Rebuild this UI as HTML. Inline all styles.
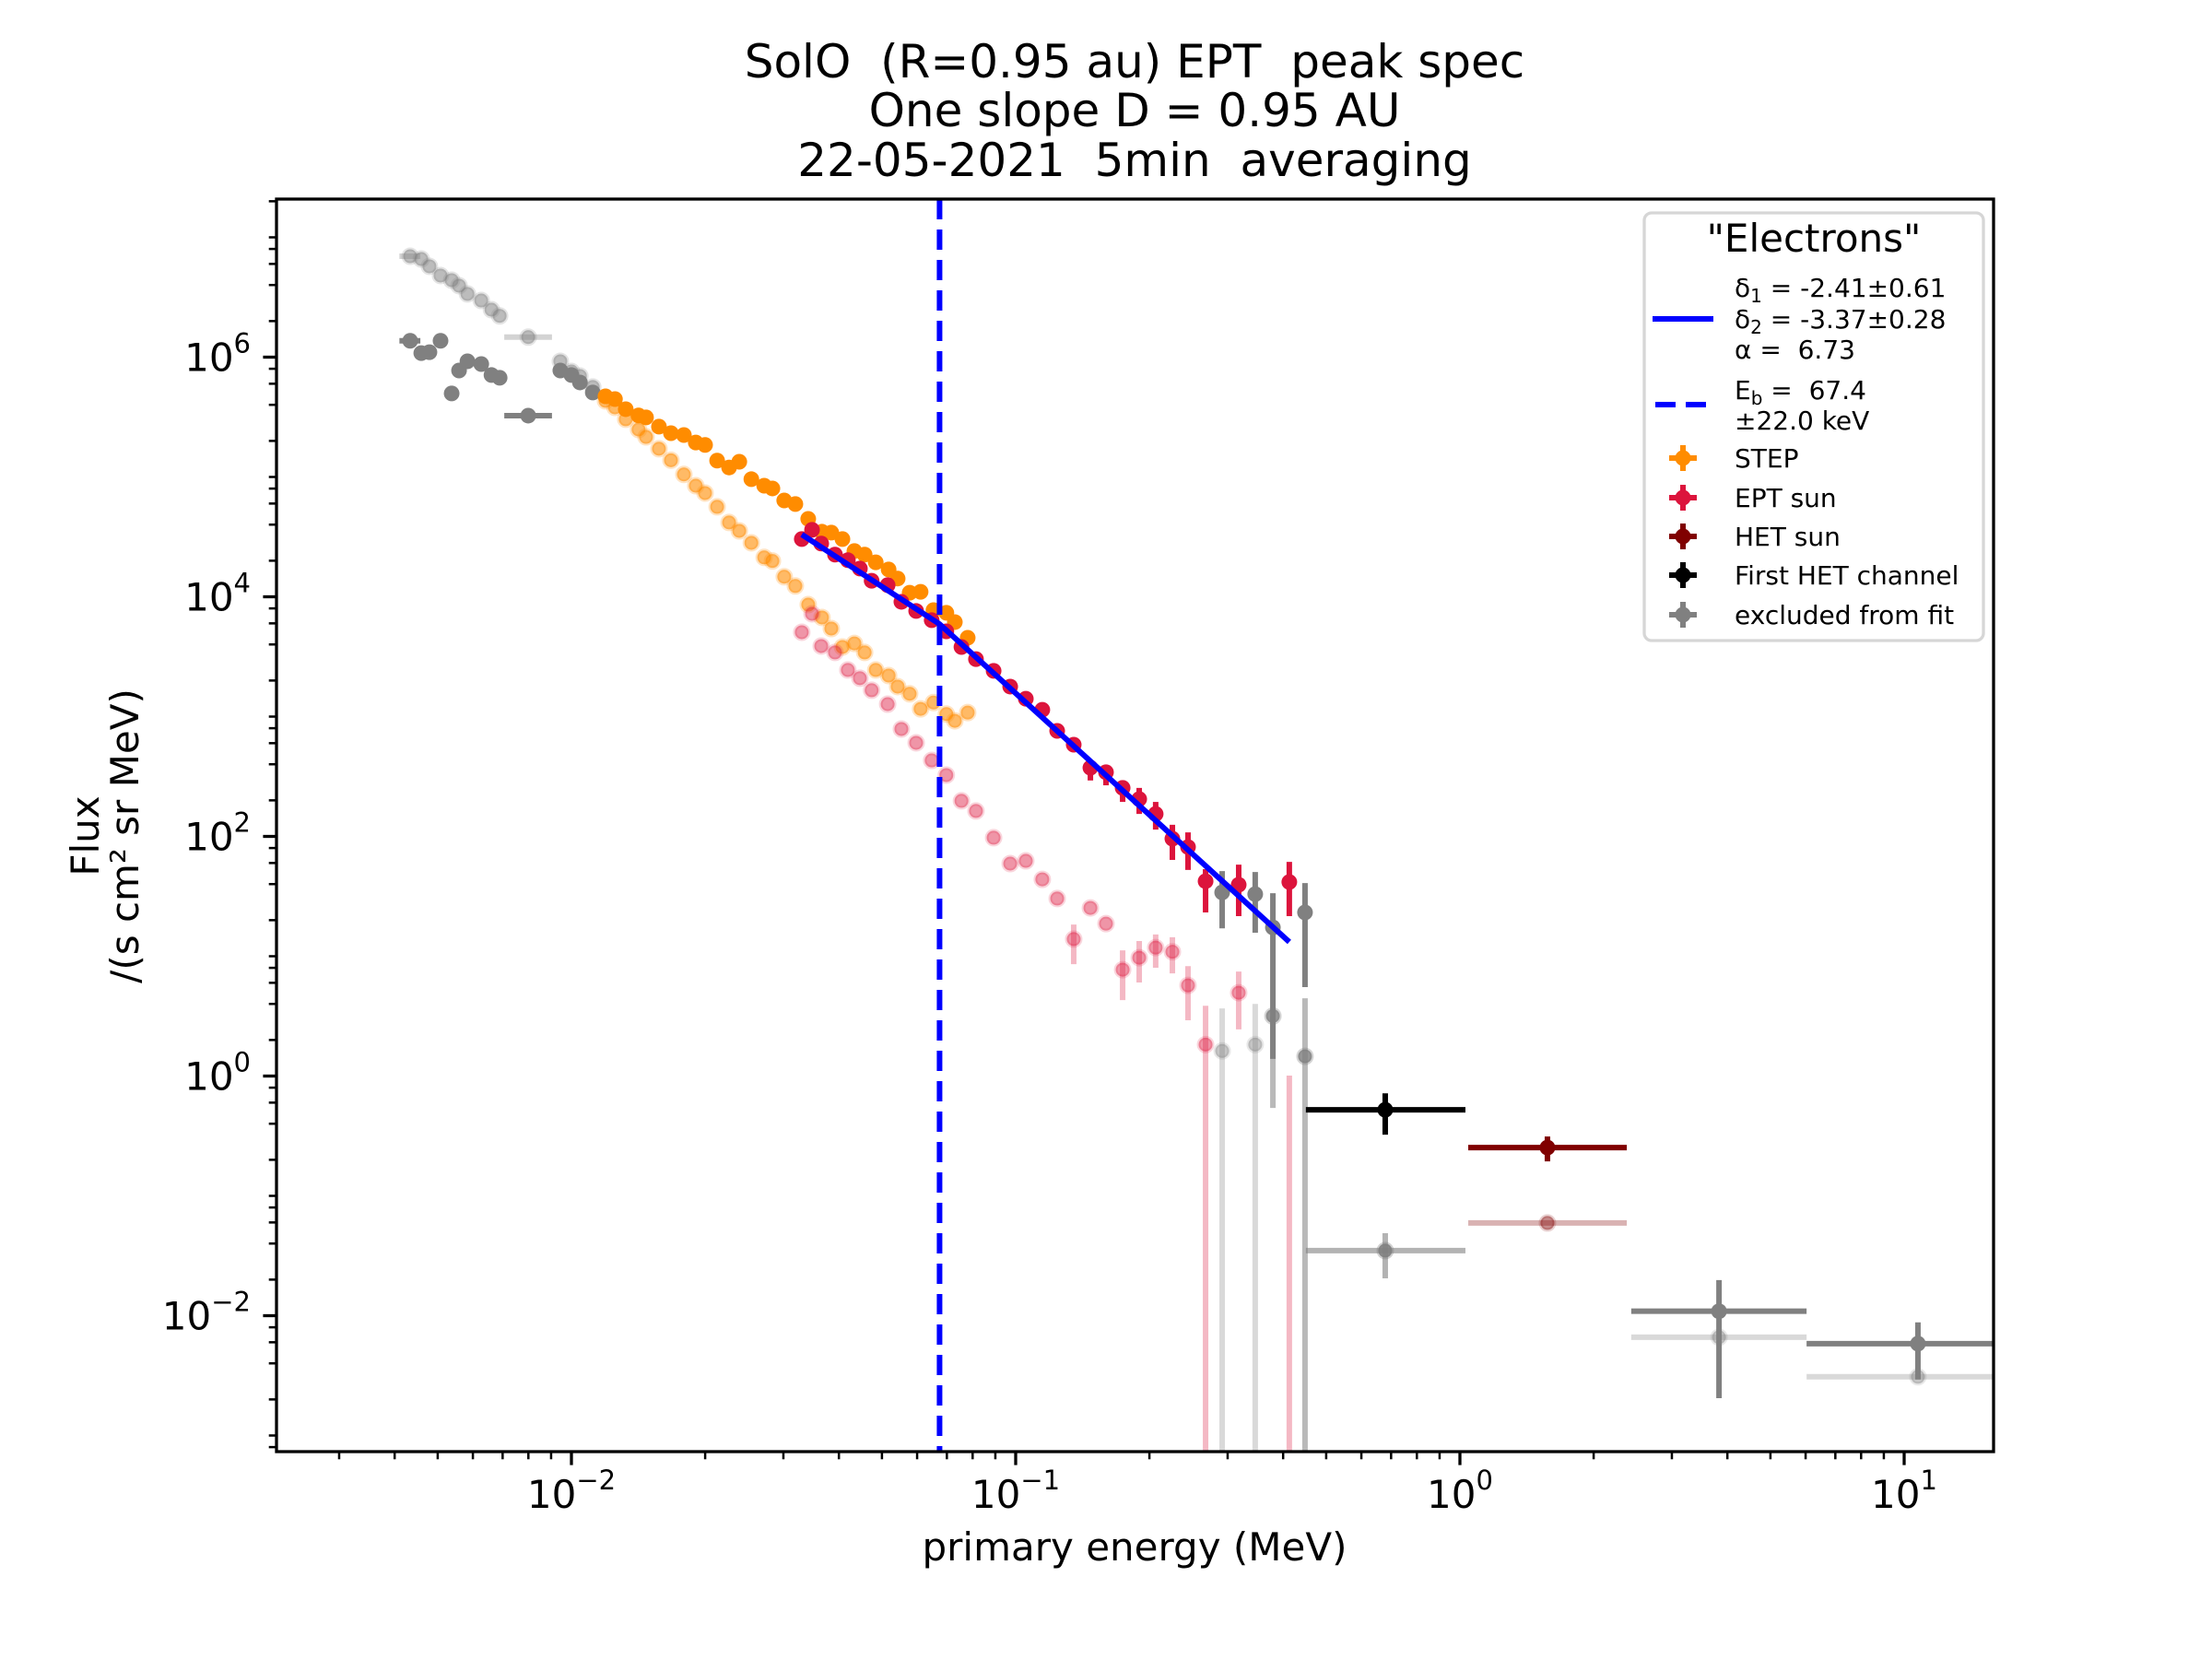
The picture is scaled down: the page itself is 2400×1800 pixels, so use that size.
<!DOCTYPE html>
<html><head><meta charset="utf-8"><style>
html,body{margin:0;padding:0;background:#fff;}
svg{display:block;font-family:"DejaVu Sans","Liberation Sans",sans-serif;}
text{white-space:pre;}
</style></head><body>
<svg id="chart" xmlns="http://www.w3.org/2000/svg" width="2400" height="1800" viewBox="0 0 2400 1800">
<rect x="0" y="0" width="2400" height="1800" fill="#fff"/>
<g font-size="50" text-anchor="middle" fill="#000">
<text x="1231" y="84">SolO  (R=0.95 au) EPT  peak spec</text>
<text x="1231" y="137">One slope D = 0.95 AU</text>
<text x="1231" y="191">22-05-2021  5min  averaging</text>
</g>
<defs><clipPath id="plotclip"><rect x="300" y="216" width="1863" height="1359"/></clipPath></defs>
<g id="plot" clip-path="url(#plotclip)"></g>
<rect x="300" y="216" width="1863" height="1359" fill="none" stroke="#000" stroke-width="3.3"/>
<g id="axes"></g>
<text x="1231" y="1693" font-size="42" text-anchor="middle">primary energy (MeV)</text>
<g font-size="42" text-anchor="middle">
<text transform="translate(107,907) rotate(-90)">Flux</text>
<text transform="translate(150,907) rotate(-90)">/(s cm² sr MeV)</text>
</g>
<g id="legend">
<rect x="1784" y="231" width="368" height="464" rx="8" fill="#fff" fill-opacity="0.8" stroke="#d6d6d6" stroke-width="3.3"/>
<text x="1968" y="273" font-size="42" text-anchor="middle">"Electrons"</text>
<line x1="1793" y1="346" x2="1859" y2="346" stroke="#0000ff" stroke-width="6"/>
<g font-size="28">
<text x="1882" y="322">δ<tspan font-size="20" dy="6">1</tspan><tspan dy="-6"> = -2.41±0.61</tspan></text>
<text x="1882" y="356">δ<tspan font-size="20" dy="6">2</tspan><tspan dy="-6"> = -3.37±0.28</tspan></text>
<text x="1882" y="389">α =  6.73</text>
</g>
<line x1="1796" y1="439" x2="1856" y2="439" stroke="#0000ff" stroke-width="6" stroke-dasharray="22,11"/>
<g font-size="28">
<text x="1882" y="433">E<tspan font-size="20" dy="6">b</tspan><tspan dy="-6"> =  67.4</tspan></text>
<text x="1882" y="466">±22.0 keV</text>
</g>
<g id="legend-entries"></g>
</g>
</svg>
<script>
// ---------- data ----------
const stepE=[0.01193,0.01253,0.01325,0.01416,0.01472,0.01574,0.01675,0.01791,0.01905,0.01999,0.02128,0.02264,0.02387,0.02541,0.02716,0.02834,0.03013,0.03192,0.03412,0.03664,0.03846,0.04074,0.04335,0.04571,0.04842,0.05176,0.05424,0.05772,0.06109,0.06531,0.06982,0.07295,0.07798];
const stepF=[4.71e5,4.47e5,3.68e5,3.26e5,3.14e5,2.63e5,2.32e5,2.24e5,1.94e5,1.85e5,1.37e5,1.20e5,1.34e5,9.58e4,8.45e4,8.02e4,6.37e4,5.94e4,4.47e4,3.49e4,3.43e4,3.03e4,2.41e4,2.25e4,1.94e4,1.69e4,1.42e4,1.08e4,1.10e4,7.74e3,7.35e3,6.15e3,4.55e3];
const stepFadedF=[4.32e5,3.81e5,3.03e5,2.49e5,2.16e5,1.72e5,1.38e5,1.05e5,8.45e4,7.34e4,5.63e4,4.17e4,3.55e4,2.82e4,2.13e4,1.99e4,1.47e4,1.23e4,8.60e3,6.72e3,5.43e3,3.81e3,4.08e3,3.43e3,2.45e3,2.20e3,1.78e3,1.55e3,1.16e3,1.31e3,1.05e3,922,1.08e3];

const eptE=[0.0330,0.0348,0.0365,0.0392,0.0419,0.0446,0.0474,0.0515,0.0553,0.0597,0.0647,0.0698,0.0755,0.0814,0.0892,0.0972,0.1054,0.1148,0.1240,0.1351,0.1473,0.1597,0.1741,0.1897,0.2066,0.2253,0.2443,0.2676,0.3177,0.4130];
const eptF=[3.03e4,3.62e4,2.78e4,2.25e4,2.02e4,1.72e4,1.36e4,1.25e4,9.08e3,7.61e3,6.38e3,5.15e3,3.81e3,3.02e3,2.41e3,1.78e3,1.41e3,1.14e3,760,583,374,343,254,205,154,95.7,81.5,42.3,39.5,41.6];
const eptHi=[null,null,null,null,null,null,null,null,null,null,null,null,null,null,null,null,null,null,null,null,415,394,293,254,194,125,108,53.3,58.1,61.3];
const eptLo=[null,null,null,null,null,null,null,null,null,null,null,null,null,null,null,null,null,null,null,null,293,267,194,154,114,63.6,52.5,23.2,21.6,21.6];
const eptFadedF=[5.06e3,7.21e3,3.88e3,3.43e3,2.45e3,2.09e3,1.66e3,1.27e3,788,604,431,325,198,163,97.5,59.3,62.5,43.8,30.3,13.9,25.3,18.7,7.72,9.72,11.8,10.9,5.71,1.83,4.96,1e-4];
const eptFadedHi=[null,null,null,null,null,null,null,null,null,null,null,null,null,null,null,null,null,null,null,18.4,null,null,11.2,13.4,15.2,14.4,8.26,3.86,7.45,1.01];
const eptFadedLo=[null,null,null,null,null,null,null,null,null,null,null,null,null,null,null,null,null,null,null,8.58,null,null,4.30,6.03,8.02,7.19,2.92,1e-4,2.45,1e-4];

const lowE=[0.004335,0.004592,0.004790,0.005074,0.005375,0.005585,0.005834,0.006266,0.006607,0.006893,0.007993,0.009441,0.01,0.01045,0.01117];
const lowF=[1.37e6,1.08e6,1.10e6,1.37e6,4.98e5,7.73e5,9.24e5,8.76e5,7.09e5,6.73e5,3.25e5,7.73e5,7.09e5,6.15e5,5.07e5];
const lowFadedF=[6.95e6,6.59e6,5.73e6,4.80e6,4.39e6,3.95e6,3.37e6,2.97e6,2.49e6,2.21e6,1.47e6,9.24e5,7.60e5,6.96e5,5.64e5];
const lowXlo=[0.00410,null,null,null,null,null,null,null,null,null,0.00706,null,null,null,null];
const lowXhi=[0.00457,null,null,null,null,null,null,null,null,null,0.00904,null,null,null,null];

const exclE=[0.2916,0.3461,0.3793,0.4480];
const exclF=[34.1,33.0,17.4,23.2];
const exclHi=[51.3,50.5,33.6,40.8];
const exclLo=[17.1,15.7,1.39,5.52];
const exclFadedF=[1.62,1.83,3.17,1.46];
const exclFadedHi=[3.67,4.00,3.17,4.46];
const exclFadedLo=[1e-4,1e-4,0.542,1e-4];

const hetE=[0.679,1.574];
const hetXlo=[0.450,1.044];
const hetXhi=[1.029,2.375];
const hetF=[0.523,0.253];
const hetLo=[0.324,0.194];
const hetHi=[0.718,0.313];
const hetFadedF=[0.0349,0.0594];
const hetFadedLo=[0.0205,0.0594];
const hetFadedHi=[0.0488,0.0594];

const highE=[3.83,10.74];
const highXlo=[2.43,6.03];
const highXhi=[6.03,17.8];
const highF=[0.01089,0.00584];
const highLo=[0.00205,0.00293];
const highHi=[0.0198,0.00880];
const highFadedF=[0.00661,0.00309];

const fitDelta1=-2.41, fitDelta2=-3.37, fitEb=0.0674, fitFb=5.92e3, fitEmin=0.033, fitEmax=0.413;

const xTickExp=[-2,-1,0,1];
const yTickExp=[-2,0,2,4,6];

// ---------- scales ----------
const X0=300,X1=2163,Y0=216,Y1=1575;
function xs(e){return 620+482*(Math.log10(e)+2);}
function ys(f){return 387.5-130*(Math.log10(f)-6);}
const NS="http://www.w3.org/2000/svg";
const plot=document.getElementById('plot');
const axes=document.getElementById('axes');
function mk(tag,attrs,parent){const el=document.createElementNS(NS,tag);for(const k in attrs)el.setAttribute(k,attrs[k]);parent.appendChild(el);return el;}

function errPoint(parent,name,e,f,lo,hi,xlo,xhi,color,op,faded){
  const g=mk('g',{},parent);
  
  
  const cx=xs(e),cy=ys(f);
  if(lo!=null&&hi!=null){
    const l=mk('line',{x1:cx,x2:cx,y1:ys(hi),y2:ys(lo),stroke:color,'stroke-width':6,'stroke-opacity':op},g);
    
    
  }
  if(xlo!=null&&xhi!=null){
    const l=mk('line',{x1:xs(xlo),x2:xs(xhi),y1:cy,y2:cy,stroke:color,'stroke-width':6,'stroke-opacity':op},g);
    
    
  }
  const c=mk('circle',{cx:cx,cy:cy,r:faded?7.5:8.5,fill:color,'fill-opacity':faded?Math.min(1,op*1.5):op},g);
  if(faded){c.setAttribute('stroke',color);c.setAttribute('stroke-opacity',op*0.6);c.setAttribute('stroke-width',4);}
  
  
}

// faded layers
lowE.forEach((e,i)=>errPoint(plot,'low-faded-point',e,lowFadedF[i],null,null,lowXlo[i],lowXhi[i],'#808080',0.35,true));
stepE.forEach((e,i)=>errPoint(plot,'step-faded-point',e,stepFadedF[i],null,null,null,null,'#ff8c00',0.4,true));
eptE.forEach((e,i)=>errPoint(plot,'ept-faded-point',e,eptFadedF[i],eptFadedLo[i],eptFadedHi[i],null,null,'#dc143c',0.3,true));
exclE.forEach((e,i)=>errPoint(plot,'excluded-faded-point',e,exclFadedF[i],exclFadedLo[i],exclFadedHi[i],null,null,'#808080',i==2||i==3?0.55:0.3,true));
errPoint(plot,'first-het-faded-point',hetE[0],hetFadedF[0],hetFadedLo[0],hetFadedHi[0],hetXlo[0],hetXhi[0],'#808080',0.6,true);
errPoint(plot,'het-sun-faded-point',hetE[1],hetFadedF[1],hetFadedLo[1],hetFadedHi[1],hetXlo[1],hetXhi[1],'#800000',0.3,true);
highE.forEach((e,i)=>errPoint(plot,'high-faded-point',e,highFadedF[i],null,null,highXlo[i],highXhi[i],'#808080',0.3,true));

// solid layers
lowE.forEach((e,i)=>errPoint(plot,'low-excluded-point',e,lowF[i],null,null,lowXlo[i],lowXhi[i],'#808080',1,false));
stepE.forEach((e,i)=>errPoint(plot,'step-point',e,stepF[i],null,null,null,null,'#ff8c00',1,false));
eptE.forEach((e,i)=>errPoint(plot,'ept-sun-point',e,eptF[i],eptLo[i],eptHi[i],null,null,'#dc143c',1,false));
exclE.forEach((e,i)=>errPoint(plot,'excluded-point',e,exclF[i],exclLo[i],exclHi[i],null,null,'#808080',1,false));
errPoint(plot,'first-het-point',hetE[0],hetF[0],hetLo[0],hetHi[0],hetXlo[0],hetXhi[0],'#000000',1,false);
errPoint(plot,'het-sun-point',hetE[1],hetF[1],hetLo[1],hetHi[1],hetXlo[1],hetXhi[1],'#800000',1,false);
highE.forEach((e,i)=>errPoint(plot,'high-excluded-point',e,highF[i],highLo[i],highHi[i],highXlo[i],highXhi[i],'#808080',1,false));

// fit line (broken power law)
function fitF(e){const d=e<fitEb?fitDelta1:fitDelta2;return fitFb*Math.pow(e/fitEb,d);}
const fitPts=[fitEmin,fitEb,fitEmax].map(e=>xs(e)+','+ys(fitF(e))).join(' ');
const fl=mk('polyline',{points:fitPts,fill:'none',stroke:'#0000ff','stroke-width':6},plot);


const bl=mk('line',{x1:xs(fitEb),x2:xs(fitEb),y1:Y0,y2:Y1,stroke:'#0000ff','stroke-width':6,'stroke-dasharray':'22,11'},plot);



// x ticks
for(let p=-3;p<=1;p++){
  for(let m=1;m<=9;m++){
    const v=m*Math.pow(10,p);const x=xs(v);
    if(x<X0-0.5||x>X1+0.5)continue;
    const t=mk('line',{x1:x,x2:x,y1:Y1,y2:Y1+(m==1?14.6:8.3),stroke:'#000','stroke-width':m==1?3.3:2.5},axes);
    
    
  }
}
xTickExp.forEach(p=>{
  const t=mk('text',{x:xs(Math.pow(10,p)),y:1636,'font-size':42,'text-anchor':'middle'},axes);
  
  
  t.appendChild(document.createTextNode('10'));
  const s=mk('tspan',{'font-size':29,dy:-20},t);
  s.textContent=(p<0?'\u2212'+(-p):String(p));
});
// y ticks
for(let p=-4;p<=7;p++){
  [1,2,4,6,8].forEach(m=>{
    const v=m*Math.pow(10,p);const y=ys(v);
    if(y<Y0-0.5||y>Y1+0.5)return;
    const big=(m==1&&p%2==0);
    const t=mk('line',{x1:X0-(big?14.6:8.3),x2:X0,y1:y,y2:y,stroke:'#000','stroke-width':big?3.3:2.5},axes);
    
    
  });
}
yTickExp.forEach(p=>{
  const t=mk('text',{x:272,y:ys(Math.pow(10,p))+15,'font-size':42,'text-anchor':'end'},axes);
  
  
  t.appendChild(document.createTextNode('10'));
  const s=mk('tspan',{'font-size':29,dy:-20},t);
  s.textContent=(p<0?'\u2212'+(-p):String(p));
});

// legend entries
const legLabels=['STEP','EPT sun','HET sun','First HET channel','excluded from fit'];
const legColors=['#ff8c00','#dc143c','#800000','#000000','#808080'];
const legY=[497,540,582,624,667];
const le=document.getElementById('legend-entries');
legLabels.forEach((lab,i)=>{
  const g=mk('g',{},le);
  
  
  const y=legY[i],c=legColors[i];
  mk('line',{x1:1811,x2:1841,y1:y,y2:y,stroke:c,'stroke-width':6},g);
  mk('line',{x1:1826,x2:1826,y1:y-14,y2:y+14,stroke:c,'stroke-width':6},g);
  mk('circle',{cx:1826,cy:y,r:8.5,fill:c},g);
  const t=mk('text',{x:1882,y:y+10,'font-size':28},g);
  t.textContent=lab;
});
</script>
</body></html>
